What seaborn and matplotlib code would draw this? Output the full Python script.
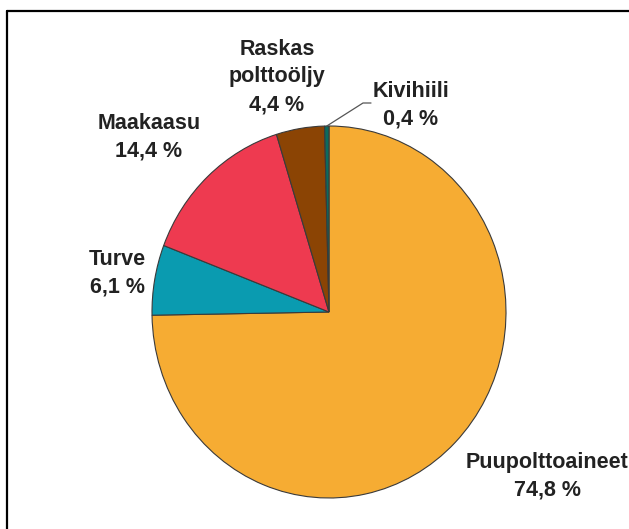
import numpy as np
import matplotlib
matplotlib.use("Agg")
import matplotlib.pyplot as plt
from matplotlib.lines import Line2D
import seaborn as sns

# Fuel shares (%), clockwise from 12 o'clock
fuels = ["Puupolttoaineet", "Turve", "Maakaasu", "Raskas\npolttoöljy", "Kivihiili"]
shares = [74.8, 6.1, 14.4, 4.4, 0.4]
share_text = ["74,8 %", "6,1 %", "14,4 %", "4,4 %", "0,4 %"]
colors = ["#F6AC33", "#0A9BB0", "#EE3A50", "#8B4404", "#0C6B5E"]

sns.set_theme(style="white")
plt.rcParams["font.family"] = ["Liberation Sans", "DejaVu Sans"]

W, H = 629, 529
fig = plt.figure(figsize=(W / 100, H / 100), dpi=100)
fig.patch.set_facecolor("white")

# pie box in pixels: left 152, right 506, top 126, bottom 498
cx, cy, rx, ry = 329, 312, 177, 186
ax = fig.add_axes([(cx - rx) / W, (H - cy - ry) / H, 2 * rx / W, 2 * ry / H])

wedges, _ = ax.pie(shares, colors=colors, startangle=90, counterclock=False,
                   radius=1.0, frame=True,
                   wedgeprops=dict(edgecolor="#3a3a3a", linewidth=0.8))
ax.set_xlim(-1, 1)
ax.set_ylim(-1, 1)
ax.set_aspect("auto")
ax.axis("off")

def to_data(px, py):
    return (px - cx) / rx, (cy - py) / ry

label_pos = [(547, 476), (117, 273), (149, 137), (277, 77), (411, 105)]
for name, txt, (px, py) in zip(fuels, share_text, label_pos):
    x, y = to_data(px, py)
    ax.text(x, y, f"{name}\n{txt}", ha="center", va="center",
            multialignment="center", fontsize=15.5, fontweight="bold",
            color="#222222", linespacing=1.42, clip_on=False)

# leader line for the thin Kivihiili slice
w = wedges[4]
mid = np.deg2rad((w.theta1 + w.theta2) / 2)
x0, y0 = np.cos(mid), np.sin(mid)
x1, y1 = to_data(363, 103)
x2, y2 = to_data(371, 103)
ax.plot([x0, x1, x2], [y0, y1, y2], color="#555555", linewidth=0.9,
        clip_on=False)

# frame lines along top and left edges
fig.add_artist(Line2D([7 / W, 1], [1 - 10.5 / H, 1 - 10.5 / H],
                      transform=fig.transFigure, color="black", linewidth=1.6))
fig.add_artist(Line2D([7 / W, 7 / W], [0, 1 - 10.5 / H],
                      transform=fig.transFigure, color="black", linewidth=1.6))

fig.savefig("out.png", dpi=100, facecolor="white")
